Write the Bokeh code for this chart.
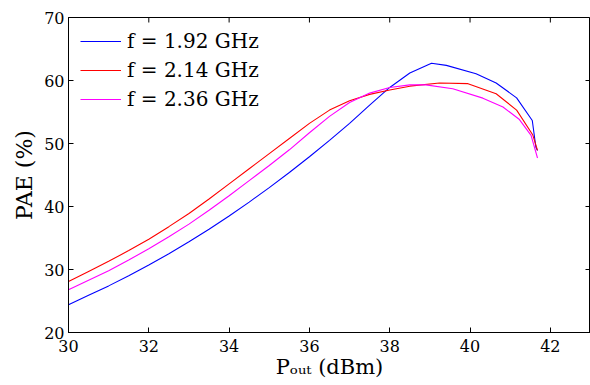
from bokeh.plotting import figure
from bokeh.models import FixedTicker, Range1d
from bokeh.embed import file_html
from bokeh.resources import INLINE

# ---- data ----
pout_192 = [30, 30.5, 31, 31.5, 32, 32.5, 33, 33.5, 34, 34.5, 35, 35.5, 36, 36.5, 37, 37.5, 38, 38.5,
            39.04, 39.41, 40.15, 40.65, 41.16, 41.55, 41.64, 41.68]
pae_192 = [24.4, 25.9, 27.4, 29.0, 30.7, 32.5, 34.4, 36.4, 38.5, 40.7, 43.0, 45.4, 47.9, 50.5, 53.2, 56.1, 58.9, 61.2,
           62.75, 62.4, 61.06, 59.6, 57.25, 53.65, 49.4, 48.9]

pout_214 = [30, 30.5, 31, 31.5, 32, 32.5, 33, 33.5, 34, 34.5, 35, 35.5, 36, 36.5, 37, 37.5, 38, 38.5,
            39.24, 39.95, 40.65, 41.16, 41.56, 41.68]
pae_214 = [28.1, 29.7, 31.3, 33.0, 34.8, 36.8, 38.9, 41.2, 43.6, 46.0, 48.4, 50.8, 53.2, 55.3, 56.8, 57.8, 58.5, 59.1,
           59.6, 59.5, 57.9, 55.3, 51.4, 48.9]

pout_236 = [30, 30.5, 31, 31.5, 32, 32.5, 33, 33.5, 34, 34.5, 35, 35.5, 36, 36.5, 37, 37.5, 38, 38.5,
            38.9, 39.57, 40.32, 40.82, 41.23, 41.52, 41.68]
pae_236 = [26.8, 28.3, 29.8, 31.5, 33.3, 35.2, 37.2, 39.4, 41.7, 44.1, 46.5, 49.0, 51.7, 54.3, 56.5, 58.0, 58.9, 59.3,
           59.3, 58.7, 57.2, 55.8, 53.8, 51.3, 47.7]

labels = ["f = 1.92 GHz", "f = 2.14 GHz", "f = 2.36 GHz"]
colors = ["#0000ff", "#ff0000", "#ff00ff"]
x_ticks = [30, 32, 34, 36, 38, 40, 42]
y_ticks = [20, 30, 40, 50, 60, 70]
x_lim = (30, 43)
y_lim = (20, 70)

FONT = "DejaVu Serif"

W, H = 590, 385
BL, BR, BT, BB = 68, 0, 17, 53

p = figure(width=W, height=H, output_backend="svg", toolbar_location=None,
           x_range=Range1d(*x_lim), y_range=Range1d(*y_lim),
           min_border_left=BL, min_border_right=BR, min_border_top=BT, min_border_bottom=BB)
p.background_fill_color = "white"
p.border_fill_color = "white"
p.outline_line_color = "black"
p.outline_line_width = 1
p.grid.visible = False

for xs, ys, lab, col in zip([pout_192, pout_214, pout_236], [pae_192, pae_214, pae_236], labels, colors):
    p.line(xs, ys, line_color=col, line_width=1.1, legend_label=lab)

# inward tick marks on the top and right edges (MATLAB-style box), length ~5px
frame_w = W - BL - BR
frame_h = H - BT - BB
tick_px = 5
dy = tick_px * (y_lim[1] - y_lim[0]) / frame_h
dx = tick_px * (x_lim[1] - x_lim[0]) / frame_w
p.segment(x0=x_ticks, y0=[y_lim[1]] * len(x_ticks), x1=x_ticks, y1=[y_lim[1] - dy] * len(x_ticks),
          line_color="black", line_width=1)
p.segment(x0=[x_lim[1]] * len(y_ticks), y0=y_ticks, x1=[x_lim[1] - dx] * len(y_ticks), y1=y_ticks,
          line_color="black", line_width=1)

# bottom axis
xa = p.xaxis[0]
xa.ticker = FixedTicker(ticks=x_ticks)
xa.axis_label = "Pₒᵤₜ (dBm)"
xa.axis_label_text_font = FONT
xa.axis_label_text_font_size = "21px"
xa.axis_label_text_font_style = "normal"
xa.axis_label_standoff = 0
xa.major_label_text_font = FONT
xa.major_label_text_font_size = "16px"
xa.major_label_standoff = 7
xa.major_tick_in = 5
xa.major_tick_out = 0
xa.minor_tick_line_color = None
xa.axis_line_color = "black"
xa.major_tick_line_color = "black"
xa.major_label_text_color = "black"
xa.axis_label_text_color = "black"

# left axis
ya = p.yaxis[0]
ya.ticker = FixedTicker(ticks=y_ticks)
ya.axis_label = "PAE (%)"
ya.axis_label_text_font = FONT
ya.axis_label_text_font_size = "22px"
ya.axis_label_text_font_style = "normal"
ya.axis_label_standoff = 4
ya.major_label_text_font = FONT
ya.major_label_text_font_size = "16px"
ya.major_label_standoff = 4
ya.major_tick_in = 5
ya.major_tick_out = 0
ya.minor_tick_line_color = None
ya.axis_line_color = "black"
ya.major_tick_line_color = "black"
ya.major_label_text_color = "black"
ya.axis_label_text_color = "black"

leg = p.legend[0]
leg.location = "top_left"
leg.margin = 12
leg.padding = 2
leg.spacing = 5
leg.border_line_color = None
leg.background_fill_alpha = 0
leg.label_text_font = FONT
leg.label_text_font_size = "20px"
leg.label_text_color = "black"
leg.glyph_width = 41
leg.glyph_height = 22
leg.label_height = 22
leg.label_standoff = 6

open("out.html", "w").write(file_html(p, INLINE))
